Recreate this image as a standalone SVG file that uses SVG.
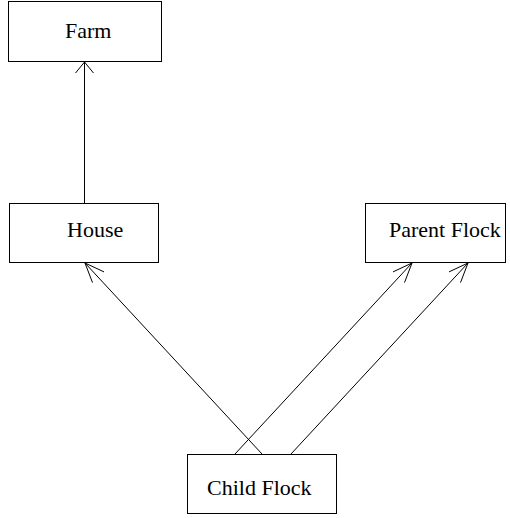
<svg xmlns="http://www.w3.org/2000/svg" width="510" height="518" viewBox="0 0 510 518">
<style>
.box{fill:#fff;stroke:#000;stroke-width:1}
.lbl{font-family:"Liberation Serif","Times New Roman",serif;font-size:22px;fill:#000}
.edge{fill:none;stroke:#000;stroke-width:1}
</style>
<rect width="510" height="518" fill="#fff"/>
<g id="connectors">
<path class="edge" d="M84.5,203 L84.5,62"/>
<path class="edge" d="M75.5,73 L84.5,62 L93.5,73"/>
<path class="edge" d="M262,454 L85,263"/>
<path class="edge" d="M92.5,282.6 L85,263 L104,271.9"/>
<path class="edge" d="M235,454 L412,263"/>
<path class="edge" d="M404.5,282.6 L412,263 L393,271.9"/>
<path class="edge" d="M291,454 L468,263"/>
<path class="edge" d="M460.5,282.6 L468,263 L449,271.9"/>
</g>
<g id="farm">
<rect class="box" x="8.5" y="1.5" width="153" height="60"/>
<text class="lbl" x="65" y="37.5">Farm</text>
</g>
<g id="house">
<rect class="box" x="9.5" y="203.5" width="149" height="59"/>
<text class="lbl" x="67" y="237">House</text>
</g>
<g id="parent-flock">
<rect class="box" x="365.5" y="203.5" width="140" height="59"/>
<text class="lbl" x="389" y="237">Parent Flock</text>
</g>
<g id="child-flock">
<rect class="box" x="187.5" y="454.5" width="149" height="59"/>
<text class="lbl" x="207" y="495">Child Flock</text>
</g>
</svg>
